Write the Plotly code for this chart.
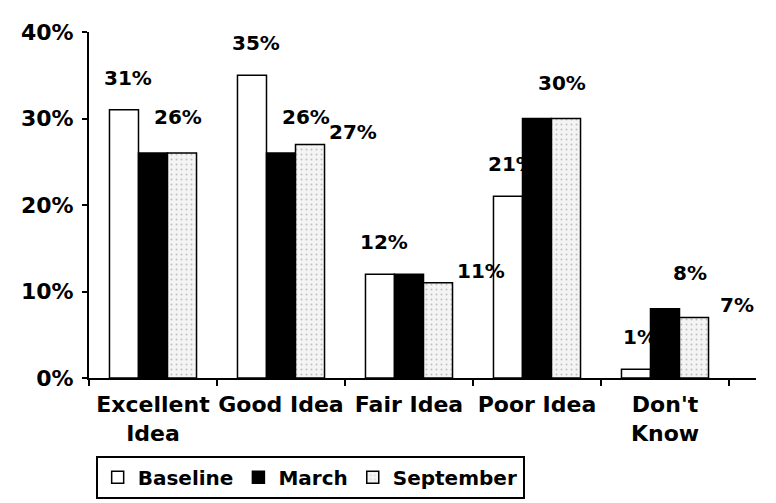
import plotly.graph_objects as go

categories = ["Excellent<br>Idea", "Good Idea", "Fair Idea", "Poor Idea", "Don't<br>Know"]
series_names = ["Baseline", "March", "September"]
baseline = [31, 35, 12, 21, 1]
march = [26, 26, 12, 30, 8]
september = [26, 27, 11, 30, 7]
y_tick_values = [0, 10, 20, 30, 40]
y_tick_labels = ["0%", "10%", "20%", "30%", "40%"]
# which value labels are visible in the original (overlapping ones were hidden)
show_baseline = [True, True, True, True, True]
show_march = [True, True, False, True, True]
show_september = [False, True, True, False, True]

FONT = "DejaVu Sans"
fig = go.Figure()

fig.add_trace(go.Bar(
    name=series_names[0], x=categories, y=baseline,
    marker=dict(color="white", line=dict(color="black", width=1.5)),
))
fig.add_trace(go.Bar(
    name=series_names[1], x=categories, y=march,
    marker=dict(color="black", line=dict(color="black", width=1.5)),
))
fig.add_trace(go.Bar(
    name=series_names[2], x=categories, y=september,
    marker=dict(color="#f2f2f2", line=dict(color="black", width=1.5),
                pattern=dict(shape=".", fgcolor="#8a8a8a", bgcolor="#f4f4f4",
                             size=5, solidity=0.12)),
))

# value labels (placed like the 3-D Excel labels: offset per series)
label_style = [
    (baseline, show_baseline, -25, 18, "bottom"),
    (march, show_march, 25, 22, "bottom"),
    (september, show_september, 72, 12, "middle"),
]
for vals, shows, xs, ys, ya in label_style:
    for cat, v, s in zip(categories, vals, shows):
        if not s:
            continue
        fig.add_annotation(
            x=cat, y=v, xref="x", yref="y", text=f"{v}%", showarrow=False,
            xshift=xs, yshift=ys, yanchor=ya, xanchor="center",
            font=dict(family=FONT, size=20, color="black", weight="bold"),
        )

fig.update_layout(
    width=776, height=503, autosize=False,
    margin=dict(l=81, r=28, t=24, b=123),
    paper_bgcolor="white", plot_bgcolor="white",
    barmode="group", bargap=0.32, bargroupgap=0,
    font=dict(family=FONT, size=22, color="black", weight="bold"),
    showlegend=True,
    legend=dict(
        orientation="h", x=0.01, xanchor="left", y=-0.225, yanchor="top",
        bordercolor="black", borderwidth=2, bgcolor="white",
        font=dict(family=FONT, size=20, color="black", weight="bold"),
        traceorder="normal", itemwidth=30,
    ),
)
fig.update_yaxes(
    range=[0, 40], tickmode="array", tickvals=y_tick_values, ticktext=y_tick_labels,
    showline=True, linecolor="black", linewidth=2,
    ticks="outside", ticklen=5, tickwidth=2, tickcolor="black",
    showgrid=False, zeroline=False, ticklabelstandoff=4,
    tickfont=dict(family=FONT, size=22, color="black", weight="bold"),
)
fig.update_xaxes(
    showline=True, linecolor="black", linewidth=2, tickangle=0,
    ticks="outside", tickson="boundaries", ticklen=6, tickwidth=2, tickcolor="black",
    showgrid=False, ticklabelstandoff=6,
    tickfont=dict(family=FONT, size=22, color="black", weight="bold"),
)

fig.write_html("out.html")
